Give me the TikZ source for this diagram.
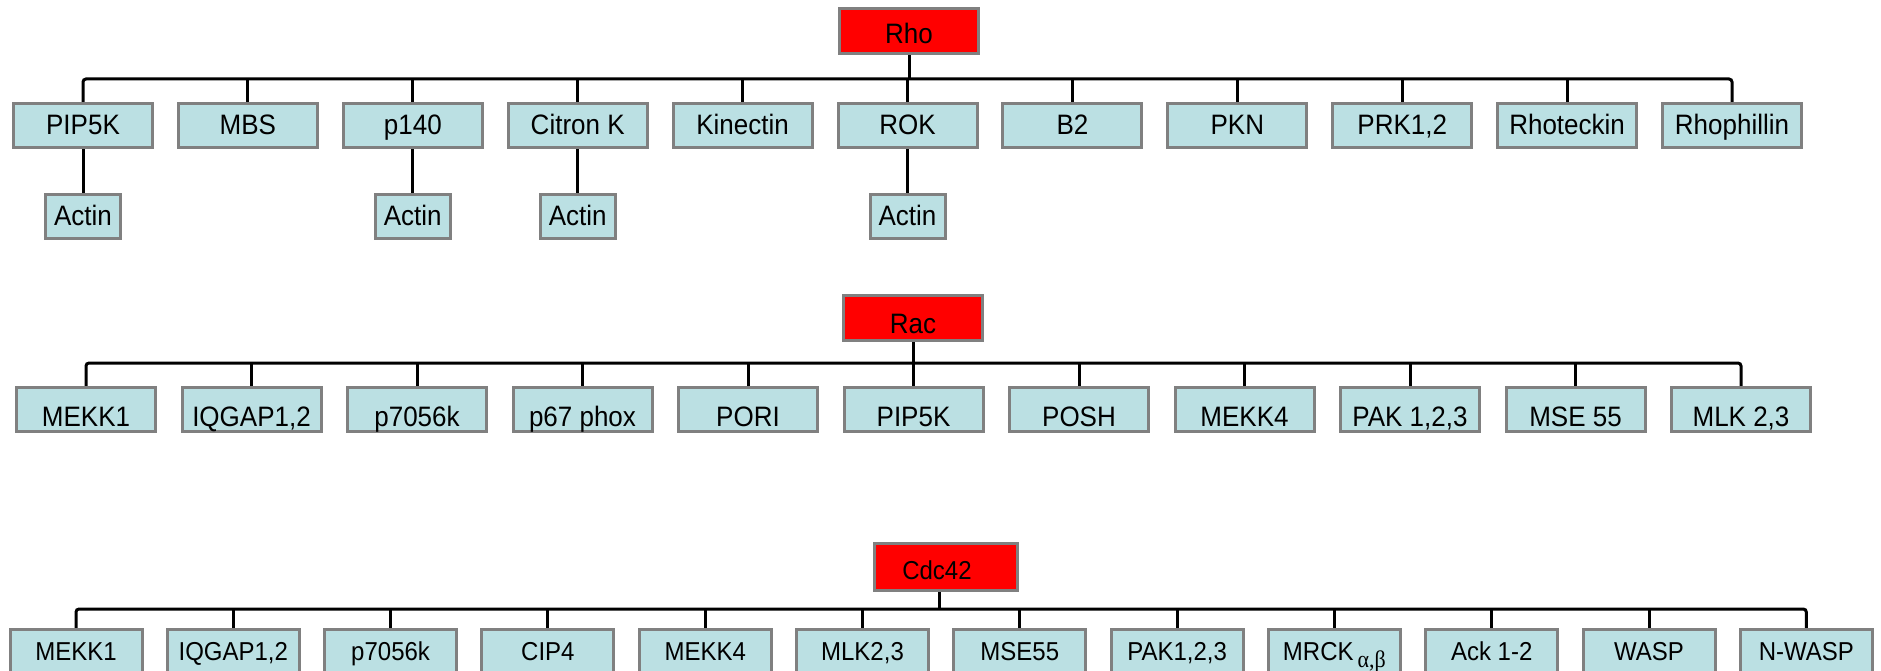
\documentclass[tikz,border=0pt]{standalone}
\usepackage{graphicx}
\usepackage{fontspec}
\setmainfont{Liberation Sans}
\newfontfamily\greekserif{Liberation Serif}
\usetikzlibrary{backgrounds}
\newcommand{\vst}[1]{\scalebox{1}[1.08]{#1}}
\definecolor{boxfill}{RGB}{187,224,227}
\definecolor{boxgray}{RGB}{128,128,128}
\definecolor{rootred}{RGB}{255,0,0}
\tikzset{
  basebox/.style={draw=boxgray, line width=3pt, inner sep=0pt, anchor=center},
  kidA/.style={basebox, fill=boxfill, minimum width=139pt, minimum height=44pt,
    text height=31.3pt, text depth=12.7pt, font=\fontsize{26}{30}\selectfont},
  actinbox/.style={kidA, minimum width=75pt},
  kidB/.style={kidA, text height=38.8pt, text depth=5.2pt},
  kidC/.style={basebox, fill=boxfill, minimum width=132pt, minimum height=45pt,
    text height=31.1pt, text depth=13.9pt, font=\fontsize{24}{28}\selectfont},
  rootbox/.style={basebox, fill=rootred, minimum width=139pt, minimum height=45pt,
    font=\fontsize{26}{30}\selectfont},
  conn/.style={draw=black, line width=3pt},
  busline/.style={conn, rounded corners=3pt},
}
\begin{document}
\begin{tikzpicture}[x=1pt,y=-1pt]
\useasboundingbox (0,0) rectangle (1881,671);
\coordinate (bus1) at (0,79);
\coordinate (bus2) at (0,363);
\coordinate (bus3) at (0,609);
\coordinate (actrow) at (0,216.5);

% ---------- Rho ----------
\node[rootbox, text height=35.3pt, text depth=9.7pt] (rho) at (909,31) {\vst{Rho}};
\foreach \t [count=\i from 0] in {PIP5K,MBS,p140,Citron K,Kinectin,ROK,B2,PKN,{PRK1,2},Rhoteckin,Rhophillin}
  \node[kidA] (rho\i) at ({83+164.9*\i},125.5) {\vst{\t}};
\foreach \p in {0,2,3,5}
  \node[actinbox] (actin\p) at (rho\p |- actrow) {\vst{Actin}};

% ---------- Rac ----------
\node[rootbox, text height=38.3pt, text depth=6.7pt] (rac) at (913,318) {\vst{Rac}};
\foreach \t [count=\i from 0] in {MEKK1,{IQGAP1,2},p7056k,p67 phox,PORI,PIP5K,POSH,MEKK4,{PAK 1,2,3},MSE 55,{MLK 2,3}}
  \node[kidB] (rac\i) at ({86+165.5*\i},409.5) {\vst{\t}};

% ---------- Cdc42 ----------
\node[rootbox, minimum width=143pt, minimum height=47pt, text height=36.1pt, text depth=10.9pt,
  font=\fontsize{24}{28}\selectfont] (cdc) at (946,567) {\vst{Cdc42}\kern18pt};
\foreach \t [count=\i from 0] in {MEKK1,{IQGAP1,2},p7056k,CIP4,MEKK4,{MLK2,3},MSE55,{PAK1,2,3},{MRCK\,\raisebox{-6pt}{\greekserif\fontsize{22}{26}\selectfont α,β}},Ack 1-2,WASP,N-WASP}
  \node[kidC] (cdc\i) at ({76+157.3*\i},652) {\vst{\t}};

% ---------- connectors ----------
\begin{scope}[on background layer]
  % Rho
  \draw[busline] (rho0.north) -- (rho0.north |- bus1) -- (rho10.north |- bus1) -- (rho10.north);
  \draw[conn] (rho.south) -- (rho.south |- bus1);
  \foreach \i in {1,...,9} \draw[conn] (rho\i.north) -- (rho\i.north |- bus1);
  \foreach \p in {0,2,3,5} \draw[conn] (rho\p.south) -- (actin\p.north);
  % Rac
  \draw[busline] (rac0.north) -- (rac0.north |- bus2) -- (rac10.north |- bus2) -- (rac10.north);
  \draw[conn] (rac.south) -- (rac.south |- bus2);
  \foreach \i in {1,...,9} \draw[conn] (rac\i.north) -- (rac\i.north |- bus2);
  % Cdc42
  \draw[busline] (cdc0.north) -- (cdc0.north |- bus3) -- (cdc11.north |- bus3) -- (cdc11.north);
  \draw[conn] ([xshift=-7pt]cdc.south) -- ([xshift=-7pt]cdc.south |- bus3);
  \foreach \i in {1,...,10} \draw[conn] (cdc\i.north) -- (cdc\i.north |- bus3);
\end{scope}
\end{tikzpicture}
\end{document}
